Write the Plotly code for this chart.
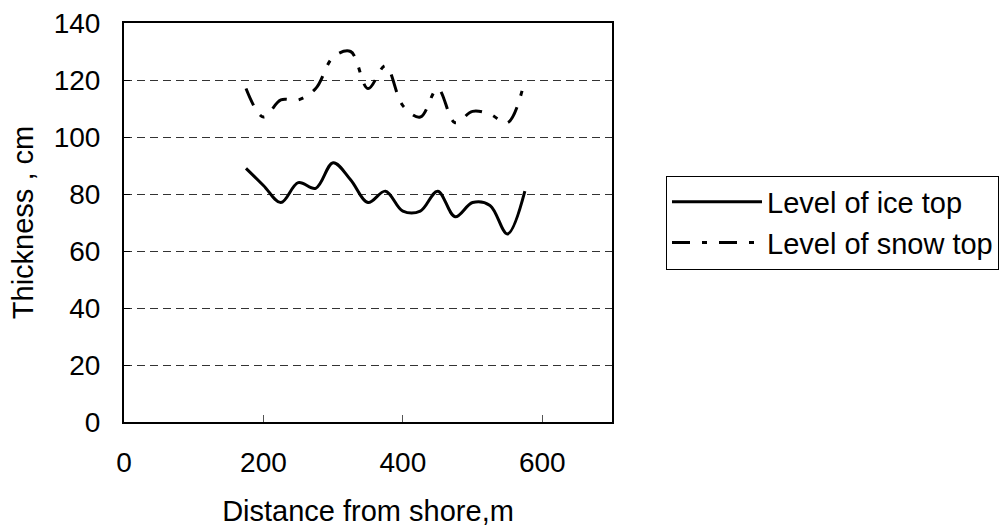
import plotly.graph_objects as go

# Survey profile: distance from shore (m) and levels (cm)
distance_m = [175, 200, 225, 250, 275, 300, 325, 350, 375, 400, 425, 450, 475, 500, 525, 550, 575]
ice_top_cm = [89, 83, 77, 84, 82, 91, 85, 77, 81, 74, 74, 81, 72, 77, 76, 66, 81]
snow_top_cm = [117, 107, 113, 113, 117, 128, 130, 117, 125, 111, 107, 117, 105, 109, 108, 105, 120]

x_ticks = [0, 200, 400, 600]
y_ticks = [0, 20, 40, 60, 80, 100, 120, 140]

FONT = "Arial, Liberation Sans, sans-serif"
TICK_FS = 28
TEXT_FS = 29

fig = go.Figure()
fig.add_trace(go.Scatter(
    x=distance_m, y=ice_top_cm, mode="lines", name="Level of ice top",
    line=dict(color="black", width=3, shape="spline", smoothing=1.0),
))
fig.add_trace(go.Scatter(
    x=distance_m, y=snow_top_cm, mode="lines", name="Level of snow top",
    line=dict(color="black", width=3, shape="spline", smoothing=1.0,
              dash="18px,12px,5px,12px"),
))

fig.update_layout(
    width=1001, height=529,
    margin=dict(l=124, r=389, t=23, b=107, autoexpand=False),
    paper_bgcolor="white", plot_bgcolor="white",
    font=dict(family=FONT, size=TICK_FS, color="black"),
    showlegend=True,
    legend=dict(
        xref="container", yref="paper",
        x=666 / 1001, xanchor="left", y=0.5, yanchor="middle",
        bordercolor="black", borderwidth=1, bgcolor="white",
        itemwidth=90, tracegroupgap=0,
        font=dict(family=FONT, size=TEXT_FS, color="black"),
    ),
    xaxis=dict(
        range=[0, 700], tickvals=x_ticks, ticktext=[str(v) for v in x_ticks],
        showgrid=False, zeroline=False,
        showline=True, linecolor="black", linewidth=2, mirror=True,
        ticks="inside", ticklen=7, tickcolor="#555", tickwidth=1,
        ticklabelstandoff=14,
        tickfont=dict(family=FONT, size=TICK_FS),
        title=dict(text="Distance from shore,m", standoff=24,
                   font=dict(family=FONT, size=TEXT_FS)),
    ),
    yaxis=dict(
        range=[0, 140], tickvals=y_ticks, ticktext=[str(v) for v in y_ticks],
        showgrid=True, gridcolor="#333", gridwidth=1, griddash="8px,5px",
        zeroline=False,
        showline=True, linecolor="black", linewidth=2, mirror=True,
        ticks="inside", ticklen=6, tickcolor="black", tickwidth=1,
        ticklabelstandoff=16,
        tickfont=dict(family=FONT, size=TICK_FS),
        title=dict(text="Thickness , cm", standoff=12,
                   font=dict(family=FONT, size=TEXT_FS)),
    ),
)

fig.write_html("out.html")
